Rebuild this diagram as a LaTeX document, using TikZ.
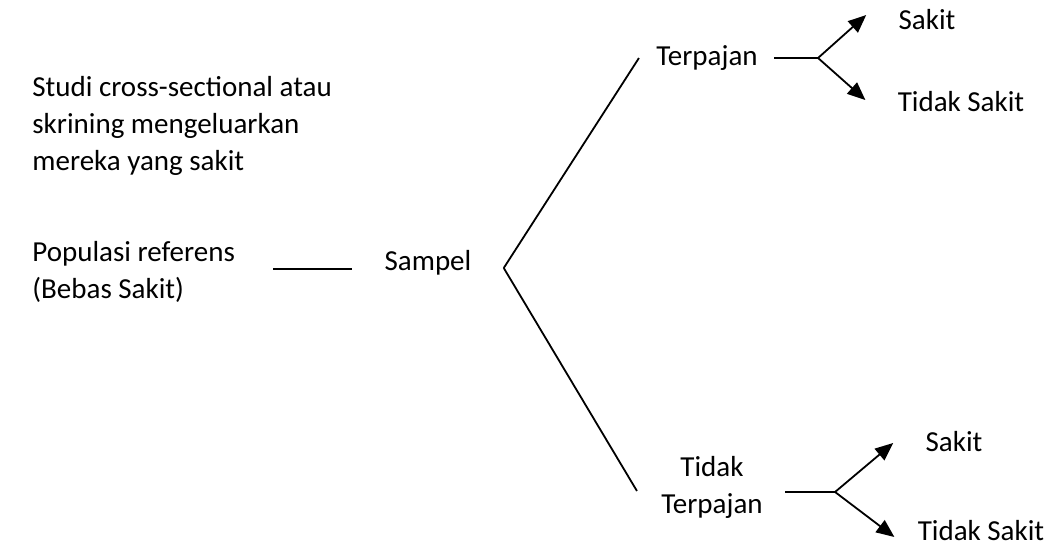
\documentclass[tikz,border=0pt]{standalone}
\usepackage{fontspec}
\setmainfont{Carlito}
\usetikzlibrary{arrows.meta}
\tikzset{>={Triangle[length=9pt,width=7.5pt]}}
\tikzset{lbl/.style={font=\fontsize{14.5}{18.5}\selectfont, inner sep=0pt},
  link/.style={line width=0.9pt}}

\begin{document}
\begin{tikzpicture}[x=0.5pt,y=-0.5pt]
\useasboundingbox (0,0) rectangle (1057,550);
% teks kiri
\node[lbl, anchor=west, align=left] (studi) at (32,126) {Studi cross-sectional atau\\skrining mengeluarkan\\mereka yang sakit};
\node[lbl, anchor=west, align=left] (pop) at (32,272) {Populasi referens\\(Bebas Sakit)};
\node[lbl] (samp) at (428,263) {Sampel};
% cabang
\node[lbl] (terp) at (707,58) {Terpajan};
\node[lbl, align=center] (tt) at (712,487) {Tidak\\Terpajan};
\node[lbl] (sak1) at (927,20) {Sakit};
\node[lbl] (tds1) at (961,102) {Tidak Sakit};
\node[lbl] (sak2) at (954,442) {Sakit};
\node[lbl] (tds2) at (981,531) {Tidak Sakit};
\coordinate (sfork) at ([xshift=16pt,yshift=-2.5pt]samp.east);
\coordinate (tfork) at ([xshift=30pt]terp.east);
\coordinate (bfork) at ([xshift=36pt,yshift=-2.5pt]tt.east);
% garis
\draw[link] ([xshift=19pt,yshift=-3pt]pop.east |- samp.west) -- ([xshift=-16pt,yshift=-3pt]samp.west);
\draw[link] (sfork) -- ([xshift=-8.5pt]terp.west);
\draw[link] (sfork) -- ([xshift=-12pt,yshift=-2pt]tt.west);
\draw[link] ([xshift=8pt]terp.east) -- (tfork);
\draw[link,->] (tfork) -- ([xshift=-16pt,yshift=2.5pt]sak1.west);
\draw[link,->] (tfork) -- ([xshift=-16pt,yshift=1pt]tds1.west);
\draw[link] ([xshift=11pt,yshift=-2.5pt]tt.east) -- (bfork);
\draw[link,->] (bfork) -- ([xshift=-16pt,yshift=-0.5pt]sak2.west);
\draw[link,->] (bfork) -- ([xshift=-11.5pt,yshift=-3pt]tds2.west);
\end{tikzpicture}
\end{document}
